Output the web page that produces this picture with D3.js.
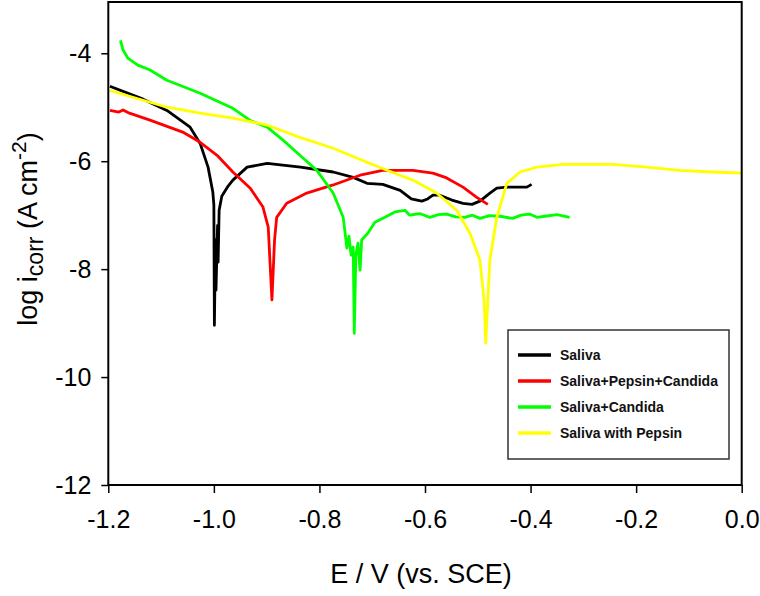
<!DOCTYPE html>
<html>
<head>
<meta charset="utf-8">
<script src="https://cdn.jsdelivr.net/npm/d3@7"></script>
<style>
  body { margin: 0; background: #fff; }
  svg { display: block; }
  text { font-family: "Liberation Sans", Arial, sans-serif; }
</style>
</head>
<body>
<svg id="chart" width="760" height="596"></svg>
<script>
// tick labels
var xTicks = [-1.2, -1.0, -0.8, -0.6, -0.4, -0.2, 0.0];
var yTicks = [-4, -6, -8, -10, -12];

// series names and colours
var seriesNames = ['Saliva', 'Saliva+Pepsin+Candida', 'Saliva+Candida', 'Saliva with Pepsin'];
var seriesColors = ['#000000', '#ff0000', '#00ff00', '#ffff00'];

// Saliva: potential (V vs SCE) and log i
var salivaE = [-1.197, -1.134, -1.089, -1.045, -1.026, -1.011, -1.002, -1.000, -0.999, -0.997, -0.996,
  -0.993, -0.992, -0.990, -0.985, -0.973, -0.964, -0.937, -0.899, -0.836, -0.774, -0.736, -0.710,
  -0.680, -0.647, -0.626, -0.606, -0.595, -0.585, -0.572, -0.549, -0.528, -0.511, -0.496, -0.477,
  -0.464, -0.445, -0.407, -0.398];
var salivaLog = [-4.61, -4.85, -5.06, -5.37, -5.67, -6.11, -6.57, -6.81, -9.04, -7.46, -8.39,
  -7.19, -7.87, -6.91, -6.65, -6.46, -6.35, -6.11, -6.04, -6.11, -6.20, -6.30, -6.41,
  -6.43, -6.54, -6.70, -6.74, -6.70, -6.63, -6.63, -6.72, -6.78, -6.80, -6.74, -6.59,
  -6.50, -6.48, -6.48, -6.43];

// Saliva+Pepsin+Candida
var pepCanE = [-1.197, -1.180, -1.172, -1.160, -1.121, -1.059, -1.026, -0.994, -0.964, -0.931, -0.907,
  -0.897, -0.890, -0.885, -0.881, -0.862, -0.824, -0.774, -0.723, -0.680, -0.623, -0.585,
  -0.559, -0.528, -0.502, -0.481];
var pepCanLog = [-5.06, -5.09, -5.05, -5.11, -5.24, -5.46, -5.65, -5.89, -6.20, -6.50, -6.85,
  -7.22, -8.57, -7.46, -7.04, -6.78, -6.59, -6.44, -6.26, -6.17, -6.17, -6.22,
  -6.31, -6.48, -6.67, -6.80];

// Saliva+Candida
var candidaE = [-1.177, -1.172, -1.163, -1.144, -1.121, -1.089, -1.026, -0.964, -0.932, -0.899, -0.869,
  -0.837, -0.805, -0.774, -0.755, -0.752, -0.748, -0.744, -0.740, -0.736, -0.734, -0.731,
  -0.727, -0.723, -0.720, -0.708, -0.695, -0.676, -0.657, -0.638, -0.629, -0.610, -0.591,
  -0.575, -0.559, -0.542, -0.525, -0.510, -0.496, -0.478, -0.458, -0.434, -0.418, -0.402,
  -0.388, -0.373, -0.350, -0.326];
var candidaLog = [-3.76, -3.94, -4.09, -4.22, -4.31, -4.50, -4.74, -5.02, -5.24, -5.37, -5.61,
  -5.89, -6.17, -6.59, -7.04, -7.28, -7.61, -7.39, -7.74, -7.59, -9.19, -7.74,
  -7.52, -8.02, -7.46, -7.33, -7.13, -7.04, -6.94, -6.91, -7.00, -6.97, -7.04,
  -6.99, -6.98, -7.03, -7.04, -7.00, -7.06, -7.01, -7.02, -7.06, -7.00, -6.98,
  -7.04, -7.02, -6.99, -7.04];

// Saliva with Pepsin
var pepsinE = [-1.197, -1.134, -1.089, -1.026, -0.964, -0.899, -0.837, -0.774, -0.710, -0.648, -0.623,
  -0.578, -0.540, -0.515, -0.496, -0.488, -0.485, -0.481, -0.477, -0.464, -0.445, -0.420,
  -0.388, -0.339, -0.244, -0.180, -0.117, -0.055, 0.001];
var pepsinLog = [-4.69, -4.87, -5.00, -5.11, -5.20, -5.33, -5.56, -5.76, -6.02, -6.26, -6.35,
  -6.59, -6.91, -7.33, -7.83, -8.57, -9.37, -8.57, -7.83, -7.04, -6.41, -6.20,
  -6.11, -6.06, -6.06, -6.11, -6.17, -6.20, -6.22];

var seriesE = [salivaE, pepCanE, candidaE, pepsinE];
var seriesLog = [salivaLog, pepCanLog, candidaLog, pepsinLog];

var svg = d3.select('#chart');

var x = d3.scaleLinear().domain([-1.2, 0.0]).range([108.3, 741.7]),
    y = d3.scaleLinear().domain([-12, -3.05]).range([485, 2]);

// curves
var line = d3.line()
  .x(function(d) { return x(d[0]); })
  .y(function(d) { return y(d[1]); });

seriesNames.forEach(function(name, i) {
  var pts = seriesE[i].map(function(e, j) { return [e, seriesLog[i][j]]; });
  svg.append('path')
    .datum(pts)
    .attr('fill', 'none')
    .attr('stroke', seriesColors[i])
    .attr('stroke-width', 2.8)
    .attr('stroke-linejoin', 'round')
    .attr('d', line);
});

// frame
svg.append('rect')
  .attr('x', x(-1.2))
  .attr('y', y(-3.05))
  .attr('width', x(0) - x(-1.2))
  .attr('height', y(-12) - y(-3.05))
  .attr('fill', 'none')
  .attr('stroke', '#000')
  .attr('stroke-width', 2);

// axes
var xAxis = svg.append('g')
  .attr('transform', 'translate(0,' + y(-12) + ')')
  .call(d3.axisBottom(x)
    .tickValues(xTicks)
    .tickSize(8)
    .tickSizeOuter(0)
    .tickPadding(17)
    .tickFormat(function(d) { return d.toFixed(1); }));

var yAxis = svg.append('g')
  .attr('transform', 'translate(' + x(-1.2) + ',0)')
  .call(d3.axisLeft(y)
    .tickValues(yTicks)
    .tickSize(7)
    .tickSizeOuter(0)
    .tickPadding(10)
    .tickFormat(function(d) { return String(d); }));

[xAxis, yAxis].forEach(function(g) {
  g.select('.domain').remove();
  g.selectAll('.tick line').attr('stroke', '#000').attr('stroke-width', 1.5);
  g.selectAll('.tick text')
    .attr('fill', '#000')
    .style('font-size', '25px');
});

// axis titles
svg.append('text')
  .attr('x', 421)
  .attr('y', 583)
  .attr('text-anchor', 'middle')
  .style('font-size', '27px')
  .text('E / V (vs. SCE)');

var yTitle = svg.append('text')
  .attr('transform', 'translate(37,229) rotate(-90)')
  .attr('text-anchor', 'middle')
  .style('font-size', '27px');
yTitle.append('tspan').text('log i');
yTitle.append('tspan').attr('dy', 6).style('font-size', '23px').text('corr');
yTitle.append('tspan').attr('dy', -6).text(' (A cm');
yTitle.append('tspan').attr('dy', -11).style('font-size', '21px').text('-2');
yTitle.append('tspan').attr('dy', 11).text(')');

// legend
var legend = svg.append('g');
legend.append('rect')
  .attr('x', 508)
  .attr('y', 330)
  .attr('width', 221)
  .attr('height', 129)
  .attr('fill', '#fff')
  .attr('stroke', '#333')
  .attr('stroke-width', 1.5);

seriesNames.forEach(function(name, i) {
  var ly = 355 + i * 26;
  legend.append('line')
    .attr('x1', 518).attr('x2', 551)
    .attr('y1', ly).attr('y2', ly)
    .attr('stroke', seriesColors[i])
    .attr('stroke-width', 3.5);
  legend.append('text')
    .attr('x', 560)
    .attr('y', ly + 5)
    .style('font-size', '14px')
    .style('font-weight', 'bold')
    .attr('fill', '#111')
    .text(name);
});
</script>
</body>
</html>
